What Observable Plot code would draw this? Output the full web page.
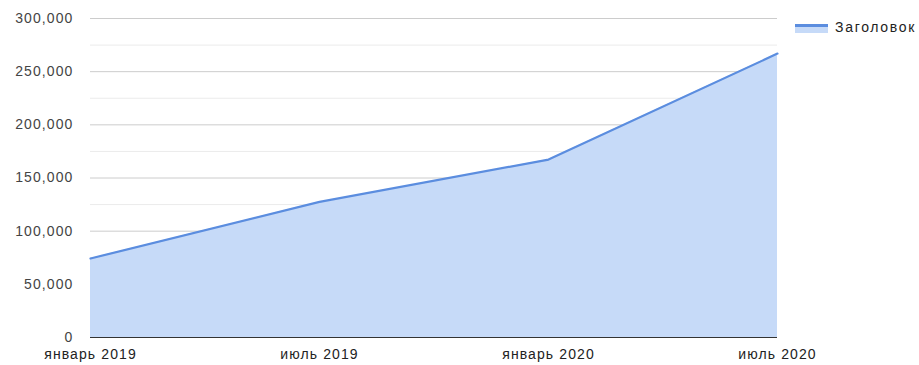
<!DOCTYPE html>
<html>
<head>
<meta charset="utf-8">
<script src="https://cdn.jsdelivr.net/npm/d3@7"></script>
<script src="https://cdn.jsdelivr.net/npm/@observablehq/plot@0.6"></script>
<style>
  html, body { margin: 0; padding: 0; background: #fff; }
  #wrap { position: relative; width: 919px; height: 365px; }
  #legend { position: absolute; left: 795px; top: 19px; display: flex; align-items: center;
    font-family: "Liberation Sans", Arial, sans-serif; font-size: 14px; letter-spacing: 1.7px; color: #222; white-space: nowrap; }
  #legend .sw { width: 33px; height: 9px; background: #c6daf8; border-top: 3px solid #5b8ddf; box-sizing: border-box; margin-right: 7px; margin-top: 2px; }
</style>
</head>
<body>
<div id="wrap"><div id="legend"><span class="sw"></span><span id="legtext"></span></div></div>
<script>
const seriesName = "Заголовок";
const categories = ["январь 2019", "июль 2019", "январь 2020", "июль 2020"];
const values = [74300, 127500, 167300, 267000];
const yTicks = [0, 50000, 100000, 150000, 200000, 250000, 300000];
const yMinorTicks = [25000, 75000, 125000, 175000, 225000, 275000];

const data = categories.map((c, i) => ({cat: c, value: values[i]}));
document.getElementById("legtext").textContent = seriesName;

const fmt = d3.format(",");
const chart = Plot.plot({
  width: 919,
  height: 365,
  marginLeft: 90,
  marginRight: 142,
  marginTop: 18,
  marginBottom: 28,
  style: { fontFamily: "Liberation Sans, Arial, sans-serif", fontSize: "14px", letterSpacing: "1.1px", color: "#444", background: "#fff", overflow: "visible" },
  x: { type: "point", domain: categories, padding: 0 },
  y: { domain: [0, 300000] },
  marks: [
    Plot.ruleY(yMinorTicks, { stroke: "#ebebeb", strokeWidth: 1 }),
    Plot.ruleY(yTicks.filter(d => d > 0), { stroke: "#cccccc", strokeWidth: 1 }),
    Plot.areaY(data, { x: "cat", y: "value", fill: "#c6daf8" }),
    Plot.ruleY([0], { stroke: "#333", strokeWidth: 1 }),
    Plot.lineY(data, { x: "cat", y: "value", stroke: "#5b8ddf", strokeWidth: 2.2 }),
    Plot.axisY({ ticks: yTicks, tickFormat: fmt, tickSize: 0, tickPadding: 17, label: null, fill: "#444" }),
    Plot.axisX({ tickSize: 0, tickPadding: 12, label: null, fill: "#222", fontSize: 14, style: { letterSpacing: "1.5px" } })
  ]
});
document.getElementById("wrap").prepend(chart);
</script>
</body>
</html>
